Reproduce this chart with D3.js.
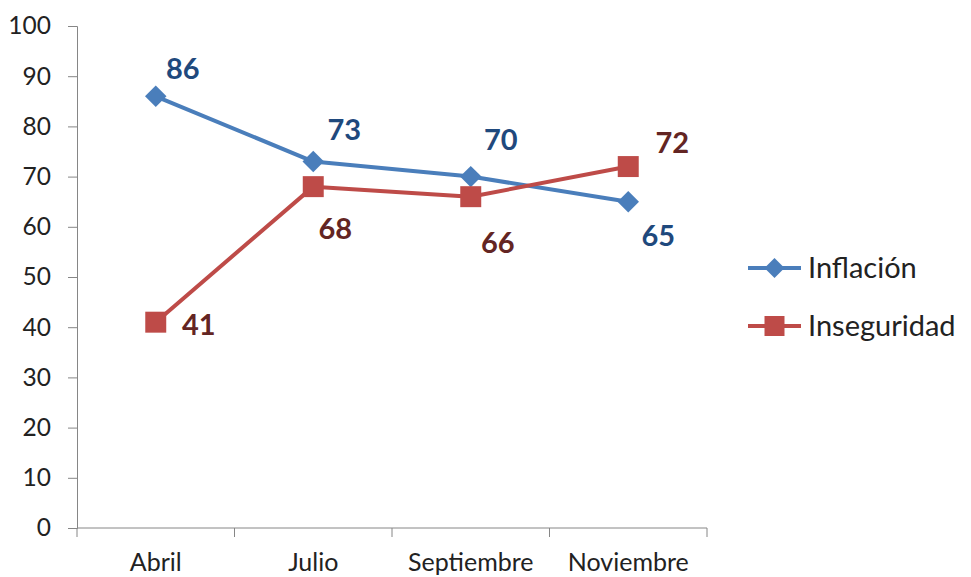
<!DOCTYPE html>
<html>
<head>
<meta charset="utf-8">
<script src="https://cdn.jsdelivr.net/npm/d3@7"></script>
<style>
  body { margin: 0; background: #fff; }
  svg { font-family: Lato, "Open Sans", sans-serif; }
</style>
</head>
<body>
<svg width="971" height="577"></svg>
<script>
const months = ['Abril', 'Julio', 'Septiembre', 'Noviembre']
const inflacion = [86, 73, 70, 65]
const inseguridad = [41, 68, 66, 72]
const yTicks = [0, 10, 20, 30, 40, 50, 60, 70, 80, 90, 100]

// label offsets from each point (dx, dy to label centre)
const inflacionLabelPos = [[27, -28], [31, -32], [30, -37], [30, 34]]
const inseguridadLabelPos = [[43, 2], [22, 42], [27, 46], [44, -24]]

const svg = d3.select('svg')

const x = d3.scaleBand()
    .domain(months)
    .range([77, 707])

const y = d3.scaleLinear()
    .domain([0, 100])
    .range([528, 26])

const series = [
    { name: 'Inflación', values: inflacion, color: '#4A7EBB', text: '#1F497D', shape: 'diamond', labels: inflacionLabelPos },
    { name: 'Inseguridad', values: inseguridad, color: '#BE4B48', text: '#632523', shape: 'square', labels: inseguridadLabelPos }
]

const axisColor = '#868686'

// y axis
const yAxis = svg.append('g')
    .attr('transform', 'translate(77,0)')
    .call(d3.axisLeft(y).tickValues(yTicks).tickSize(9).tickPadding(17))
yAxis.selectAll('line, path').attr('stroke', axisColor)
yAxis.selectAll('text')
    .attr('fill', '#222')
    .style('font-size', '24.5px')
    .style('font-family', 'Lato, sans-serif')

// x axis with ticks at band edges
const xAxisG = svg.append('g')
    .attr('transform', 'translate(0,528)')
xAxisG.append('line')
    .attr('x1', 77).attr('x2', 707)
    .attr('stroke', axisColor)
xAxisG.selectAll('.tick-mark')
    .data(months.map(m => x(m)).concat([x.range()[1]]))
    .enter().append('line')
        .attr('class', 'tick-mark')
        .attr('x1', d => d).attr('x2', d => d)
        .attr('y1', 0).attr('y2', 9)
        .attr('stroke', axisColor)
xAxisG.selectAll('.cat')
    .data(months)
    .enter().append('text')
        .attr('class', 'cat')
        .attr('x', d => x(d) + x.bandwidth() / 2)
        .attr('y', 43)
        .attr('text-anchor', 'middle')
        .attr('fill', '#222')
        .style('font-size', '25px')
        .text(d => d)

const cx = i => x(months[i]) + x.bandwidth() / 2

const line = d3.line()
    .x((d, i) => cx(i))
    .y(d => y(d))

series.forEach(s => {
    const g = svg.append('g')
    g.append('path')
        .attr('d', line(s.values))
        .attr('fill', 'none')
        .attr('stroke', s.color)
        .attr('stroke-width', 4)
        .attr('stroke-linejoin', 'round')

    g.selectAll('.marker')
        .data(s.values)
        .enter().append('path')
            .attr('class', 'marker')
            .attr('d', s.shape === 'diamond'
                ? d3.symbol().type(d3.symbolSquare).size(230)()
                : d3.symbol().type(d3.symbolSquare).size(440)())
            .attr('transform', (d, i) => `translate(${cx(i)},${y(d)})` + (s.shape === 'diamond' ? ' rotate(45)' : ''))
            .attr('fill', s.color)

    g.selectAll('.lbl')
        .data(s.values)
        .enter().append('text')
            .attr('class', 'lbl')
            .attr('x', (d, i) => cx(i) + s.labels[i][0])
            .attr('y', (d, i) => y(d) + s.labels[i][1])
            .attr('dy', '0.36em')
            .attr('text-anchor', 'middle')
            .attr('fill', s.text)
            .style('font-size', '29px')
            .style('font-weight', 'bold')
            .text(d => d)
})

// legend
const legend = svg.append('g')
    .attr('transform', 'translate(748,268)')
legend.selectAll('.item')
    .data(series)
    .enter().append('g')
        .attr('class', 'item')
        .attr('transform', (d, i) => `translate(0, ${i * 58})`)
        .each(function(s) {
            const g = d3.select(this)
            g.append('line')
                .attr('x1', 0).attr('x2', 53)
                .attr('stroke', s.color)
                .attr('stroke-width', 4)
            g.append('path')
                .attr('d', s.shape === 'diamond'
                    ? d3.symbol().type(d3.symbolSquare).size(200)()
                    : d3.symbol().type(d3.symbolSquare).size(400)())
                .attr('transform', 'translate(26.5,0)' + (s.shape === 'diamond' ? ' rotate(45)' : ''))
                .attr('fill', s.color)
            g.append('text')
                .attr('x', 60)
                .attr('dy', '0.36em')
                .attr('fill', '#222')
                .style('font-size', '29px')
                .text(s.name)
        })
</script>
</body>
</html>
